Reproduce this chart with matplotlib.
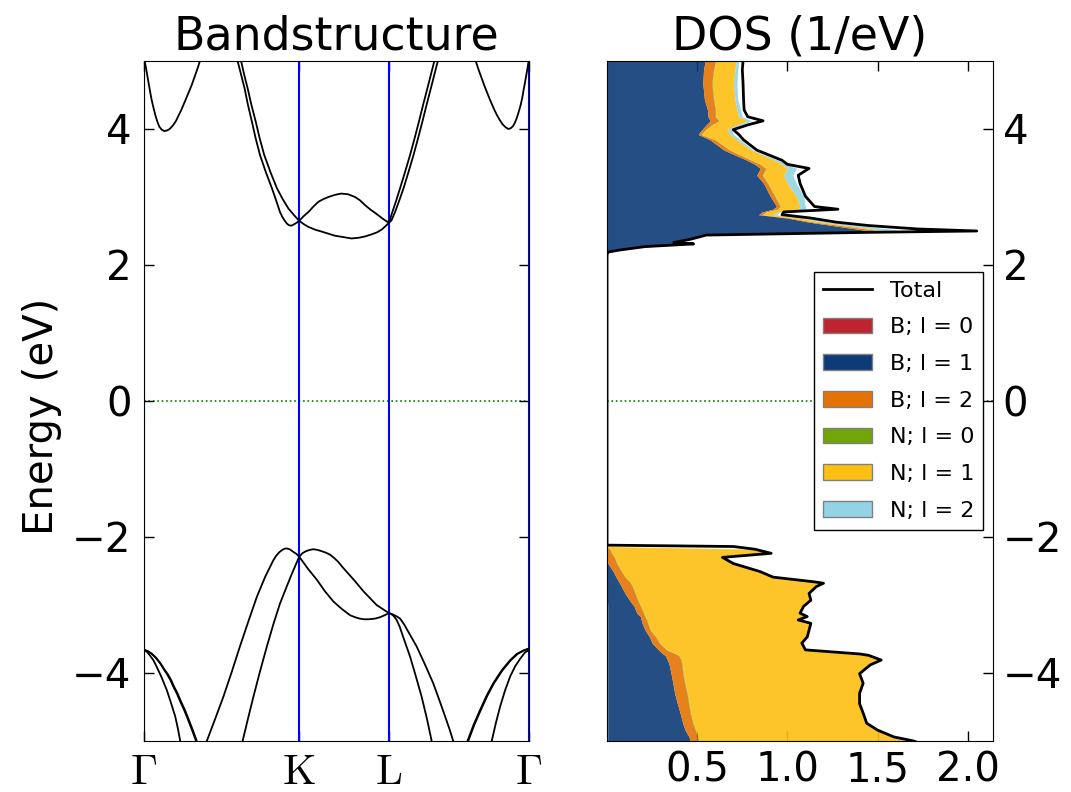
import matplotlib
matplotlib.use('Agg')
import matplotlib.pyplot as plt
import numpy as np
from matplotlib.patches import Patch
from matplotlib.lines import Line2D

plt.rcParams['font.family'] = ['DejaVu Sans']
plt.rcParams['mathtext.fontset'] = 'cm'

# ---------------- Band structure data (k path fraction, energy eV) ----------------
kpoint_pos = [0.0, 0.403, 0.636, 1.0]
kpoint_labels = [r'$\Gamma$', r'$\mathrm{K}$', r'$\mathrm{L}$', r'$\Gamma$']

cb_gl_k = [0.000, 0.004, 0.008, 0.012, 0.016, 0.020, 0.025, 0.030, 0.035, 0.040, 0.046, 0.052, 0.058, 0.064,
           0.070, 0.076, 0.083, 0.089, 0.096, 0.102, 0.108, 0.113, 0.119, 0.124, 0.129, 0.134, 0.139, 0.144, 0.150]
cb_gl_E = [5.05, 4.93, 4.80, 4.67, 4.54, 4.42, 4.30, 4.19, 4.10, 4.03, 3.99, 3.97, 3.975, 3.99,
           4.02, 4.06, 4.12, 4.19, 4.27, 4.35, 4.43, 4.50, 4.58, 4.65, 4.73, 4.81, 4.89, 4.98, 5.08]

cb_gr_k = [0.856, 0.862, 0.869, 0.876, 0.883, 0.890, 0.897, 0.903, 0.910, 0.916, 0.923, 0.931, 0.938, 0.946,
           0.952, 0.958, 0.963, 0.968, 0.973, 0.978, 0.982, 0.985, 0.989, 0.993, 0.997, 1.000]
cb_gr_E = [5.12, 4.99, 4.87, 4.76, 4.65, 4.55, 4.45, 4.37, 4.28, 4.21, 4.14, 4.07, 4.03, 4.00,
           4.01, 4.04, 4.09, 4.16, 4.25, 4.35, 4.45, 4.55, 4.67, 4.80, 4.93, 5.05]

cb1_k = [0.238, 0.243, 0.252, 0.261, 0.270, 0.280, 0.290, 0.301, 0.316, 0.332, 0.343, 0.353, 0.358, 0.362, 0.367,
         0.371, 0.375, 0.379, 0.384, 0.390, 0.396, 0.403, 0.415, 0.427, 0.444, 0.462, 0.479, 0.496, 0.518, 0.539,
         0.557, 0.574, 0.591, 0.605, 0.617, 0.627, 0.636, 0.643, 0.652, 0.663, 0.674, 0.687, 0.700, 0.712, 0.723,
         0.734, 0.745, 0.754, 0.763, 0.768]
cb1_E = [5.30, 5.00, 4.80, 4.60, 4.35, 4.11, 3.86, 3.62, 3.37, 3.13, 2.95, 2.78, 2.72, 2.68, 2.64,
         2.61, 2.59, 2.58, 2.58, 2.60, 2.62, 2.65, 2.60, 2.56, 2.52, 2.49, 2.46, 2.43, 2.41, 2.39,
         2.40, 2.42, 2.45, 2.48, 2.52, 2.57, 2.62, 2.66, 2.78, 2.95, 3.13, 3.37, 3.62, 3.87, 4.11,
         4.36, 4.60, 4.80, 5.00, 5.30]

cb2_k = [0.247, 0.252, 0.260, 0.269, 0.279, 0.290, 0.300, 0.312, 0.328, 0.345, 0.360, 0.375, 0.390, 0.403,
         0.415, 0.427, 0.440, 0.453, 0.466, 0.479, 0.495, 0.512, 0.530, 0.548, 0.561, 0.574, 0.589, 0.604,
         0.620, 0.636, 0.645, 0.655, 0.665, 0.678, 0.691, 0.703, 0.714, 0.725, 0.736, 0.745, 0.754, 0.759]
cb2_E = [5.30, 5.00, 4.80, 4.60, 4.35, 4.11, 3.87, 3.62, 3.37, 3.13, 2.97, 2.83, 2.73, 2.65,
         2.72, 2.78, 2.86, 2.93, 2.97, 3.00, 3.03, 3.05, 3.04, 3.00, 2.95, 2.88, 2.81, 2.75,
         2.68, 2.62, 2.78, 2.95, 3.13, 3.37, 3.62, 3.87, 4.11, 4.36, 4.60, 4.80, 5.00, 5.30]

vb_gl1_k = [0.000, 0.010, 0.020, 0.031, 0.042, 0.052, 0.060, 0.068, 0.076, 0.085, 0.094, 0.103, 0.111, 0.124, 0.135, 0.140]
vb_gl1_E = [-3.66, -3.68, -3.72, -3.78, -3.86, -3.95, -4.02, -4.10, -4.20, -4.30, -4.42, -4.53, -4.64, -4.83, -5.00, -5.10]
vb_gl2_k = [0.000, 0.010, 0.021, 0.032, 0.043, 0.053, 0.062, 0.070, 0.078, 0.087, 0.096, 0.105, 0.113, 0.126, 0.137, 0.142]
vb_gl2_E = [-3.66, -3.68, -3.72, -3.78, -3.86, -3.95, -4.02, -4.10, -4.20, -4.30, -4.42, -4.53, -4.64, -4.83, -5.00, -5.10]
vb_gl3_k = [0.000, 0.008, 0.015, 0.024, 0.033, 0.046, 0.059, 0.070, 0.081, 0.088, 0.094, 0.098]
vb_gl3_E = [-3.67, -3.69, -3.74, -3.81, -3.91, -4.07, -4.25, -4.44, -4.64, -4.82, -5.00, -5.10]

vb_gr1_k = [0.836, 0.840, 0.856, 0.873, 0.890, 0.907, 0.929, 0.951, 0.968, 0.985, 1.000]
vb_gr1_E = [-5.10, -5.00, -4.76, -4.54, -4.33, -4.15, -3.96, -3.81, -3.72, -3.67, -3.64]
vb_gr2_k = [0.838, 0.842, 0.858, 0.875, 0.892, 0.909, 0.931, 0.953, 0.970, 0.986, 1.000]
vb_gr2_E = [-5.10, -5.00, -4.76, -4.54, -4.33, -4.15, -3.96, -3.81, -3.72, -3.67, -3.64]
vb_gr3_k = [0.901, 0.903, 0.914, 0.925, 0.938, 0.951, 0.964, 0.977, 0.989, 1.000]
vb_gr3_E = [-5.10, -5.00, -4.73, -4.49, -4.25, -4.05, -3.90, -3.79, -3.70, -3.66]

vb1_k = [0.160, 0.163, 0.185, 0.206, 0.228, 0.249, 0.271, 0.293, 0.315, 0.336, 0.344, 0.352, 0.359, 0.366, 0.372,
         0.378, 0.388, 0.396, 0.403, 0.411, 0.420, 0.430, 0.440, 0.451, 0.462, 0.472, 0.483, 0.494, 0.505, 0.515,
         0.526, 0.548, 0.570, 0.604, 0.636, 0.643, 0.650, 0.657, 0.665, 0.676, 0.687, 0.708, 0.730, 0.751, 0.767,
         0.782, 0.793, 0.803, 0.806]
vb1_E = [-5.10, -5.00, -4.67, -4.35, -3.98, -3.61, -3.24, -2.88, -2.58, -2.34, -2.27, -2.22, -2.19, -2.17, -2.17,
         -2.18, -2.22, -2.25, -2.29, -2.24, -2.21, -2.19, -2.18, -2.19, -2.21, -2.23, -2.26, -2.31, -2.37, -2.44,
         -2.51, -2.65, -2.80, -3.00, -3.12, -3.13, -3.15, -3.17, -3.20, -3.29, -3.40, -3.61, -3.88, -4.15, -4.40,
         -4.64, -4.82, -5.00, -5.10]

vb2_k = [0.253, 0.256, 0.270, 0.284, 0.301, 0.319, 0.336, 0.353, 0.369, 0.384, 0.403, 0.426, 0.449, 0.470, 0.492,
         0.514, 0.535, 0.548, 0.560, 0.572, 0.583, 0.592, 0.600, 0.613, 0.625, 0.636, 0.641, 0.646, 0.651, 0.656,
         0.664, 0.673, 0.691, 0.706, 0.721, 0.735, 0.747, 0.750]
vb2_E = [-5.10, -5.00, -4.67, -4.35, -3.98, -3.61, -3.28, -2.98, -2.75, -2.54, -2.29, -2.47, -2.63, -2.80, -2.95,
         -3.06, -3.15, -3.18, -3.20, -3.21, -3.21, -3.205, -3.20, -3.18, -3.15, -3.12, -3.13, -3.15, -3.18, -3.22,
         -3.32, -3.47, -3.76, -4.05, -4.35, -4.68, -5.00, -5.10]

bands = [(cb_gl_k, cb_gl_E), (cb_gr_k, cb_gr_E), (cb1_k, cb1_E), (cb2_k, cb2_E),
         (vb_gl1_k, vb_gl1_E), (vb_gl2_k, vb_gl2_E), (vb_gl3_k, vb_gl3_E),
         (vb_gr1_k, vb_gr1_E), (vb_gr2_k, vb_gr2_E), (vb_gr3_k, vb_gr3_E),
         (vb1_k, vb1_E), (vb2_k, vb2_E)]

# ---------------- DOS data (1/eV) ----------------
dos_energy = [-5.05, -5.00, -4.94, -4.84, -4.74, -4.59, -4.45, -4.30, -4.15, -4.01, -3.88, -3.81, -3.74, -3.72,
              -3.66, -3.56, -3.47, -3.37, -3.27, -3.22, -3.17, -3.12, -3.02, -2.93, -2.83, -2.73, -2.68, -2.66,
              -2.59, -2.51, -2.39, -2.30, -2.24, -2.18, -2.14, -2.12,
              2.15, 2.19, 2.22, 2.27, 2.31, 2.33, 2.38, 2.44, 2.48, 2.50, 2.53, 2.58, 2.63, 2.69, 2.74, 2.78,
              2.82, 2.86, 3.01, 3.20, 3.32, 3.42, 3.48, 3.54, 3.69, 3.84, 3.92, 3.99, 4.06, 4.12, 4.18, 4.28,
              4.43, 4.67, 4.87, 5.00, 5.05]

dos_B_l0 = [0.004] * 23 + [0.002] * 7 + [0.0] * 6 + \
           [0.0, 0.0] + [0.002] * 35
dos_B_l1 = [0.456, 0.456, 0.451, 0.429, 0.416, 0.401, 0.386, 0.371, 0.361, 0.351, 0.341, 0.331, 0.318, 0.306,
            0.281, 0.246, 0.231, 0.207, 0.191, 0.186, 0.181, 0.161, 0.146, 0.123, 0.098, 0.078, 0.068, 0.063,
            0.048, 0.033, 0.005, 0.0, 0.0, 0.0, 0.0, 0.0,
            0.0, 0.003, 0.058, 0.198, 0.398, 0.358, 0.448, 0.518, 1.298, 1.458, 1.378, 1.248, 1.118, 0.998,
            0.838, 0.858, 0.918, 0.938, 0.903, 0.866, 0.828, 0.848, 0.818, 0.774, 0.646, 0.570, 0.503, 0.524,
            0.548, 0.570, 0.558, 0.555, 0.538, 0.529, 0.533, 0.542, 0.542]
dos_B_l2 = [0.047, 0.047, 0.045, 0.056, 0.055, 0.056, 0.062, 0.068, 0.065, 0.065, 0.070, 0.075, 0.074, 0.070,
            0.045, 0.040, 0.035, 0.028, 0.030, 0.030, 0.025, 0.037, 0.035, 0.045, 0.055, 0.060, 0.060, 0.060,
            0.050, 0.045, 0.049, 0.040, 0.025, 0.015, 0.0, 0.0,
            0.0, 0.0, 0.002, 0.003, 0.010, 0.003, 0.005, 0.005, 0.030, 0.060, 0.060, 0.050, 0.030, 0.020,
            0.020, 0.020, 0.025, 0.020, 0.025, 0.022, 0.030, 0.030, 0.030, 0.024, 0.032, 0.028, 0.015, 0.019,
            0.030, 0.048, 0.040, 0.043, 0.050, 0.050, 0.055, 0.056, 0.056]
dos_N_l0 = [0.003] * 34 + [0.0, 0.0] + \
           [0.0, 0.0, 0.001, 0.001, 0.002, 0.001, 0.002, 0.002] + [0.003] * 29
dos_N_l1 = [1.234, 1.184, 1.081, 1.002, 0.956, 0.950, 0.939, 0.948, 0.981, 0.971, 1.036, 1.101, 1.045, 1.011,
            0.761, 0.781, 0.831, 0.872, 0.896, 0.831, 0.891, 0.859, 0.896, 0.951, 0.956, 1.011, 1.061, 1.016,
            0.811, 0.761, 0.637, 0.591, 0.876, 0.796, 0.020, 0.0,
            0.0, 0.0, 0.002, 0.002, 0.008, 0.002, 0.003, 0.003, 0.017, 0.027, 0.037, 0.037, 0.047, 0.047,
            0.057, 0.067, 0.112, 0.107, 0.117, 0.107, 0.117, 0.117, 0.117, 0.127, 0.117, 0.117, 0.157, 0.117,
            0.137, 0.157, 0.127, 0.117, 0.117, 0.116, 0.117, 0.113, 0.113]
dos_N_l2 = [0.006] * 34 + [0.0, 0.0] + \
           [0.0, 0.0, 0.001, 0.001, 0.005, 0.001, 0.002, 0.005, 0.030, 0.080, 0.080, 0.060, 0.040, 0.030,
            0.020, 0.010, 0.040, 0.030, 0.040, 0.050, 0.050, 0.050, 0.030, 0.020, 0.010, 0.020, 0.020, 0.025,
            0.020, 0.020, 0.020, 0.020, 0.015, 0.020, 0.015, 0.014, 0.014]
dos_total = [1.75, 1.70, 1.59, 1.50, 1.44, 1.42, 1.40, 1.40, 1.42, 1.40, 1.46, 1.52, 1.45, 1.40,
             1.10, 1.08, 1.11, 1.12, 1.13, 1.06, 1.11, 1.07, 1.09, 1.13, 1.12, 1.16, 1.20, 1.15,
             0.92, 0.85, 0.70, 0.64, 0.91, 0.82, 0.70, 0.0,
             0.0, 0.005, 0.07, 0.21, 0.48, 0.37, 0.465, 0.55, 1.45, 2.05, 1.72, 1.45, 1.27, 1.13,
             0.97, 0.98, 1.28, 1.15, 1.10, 1.07, 1.06, 1.12, 1.00, 0.97, 0.83, 0.757, 0.73, 0.70,
             0.78, 0.865, 0.78, 0.76, 0.757, 0.754, 0.75, 0.754, 0.754]

dos_labels = ['B; l = 0', 'B; l = 1', 'B; l = 2', 'N; l = 0', 'N; l = 1', 'N; l = 2']
dos_components = [dos_B_l0, dos_B_l1, dos_B_l2, dos_N_l0, dos_N_l1, dos_N_l2]
fill_colors = ['#be2430', '#0d3b78', '#e57303', '#71a50a', '#fdbf12', '#92d4e5']

dos_xticks = [0.5, 1.0, 1.5, 2.0]
energy_ticks = [-4, -2, 0, 2, 4]

# ---------------- Figure ----------------
fig = plt.figure(figsize=(10.71, 7.92), dpi=100)
ax1 = fig.add_axes([0.1345, 0.0644, 0.3595, 0.8586])
ax2 = fig.add_axes([0.5668, 0.0644, 0.3604, 0.8586])

for k, e in bands:
    ax1.plot(k, e, color='k', lw=1.3, zorder=3)
for kp in kpoint_pos:
    ax1.axvline(kp, color='b', lw=1.5, zorder=2)
ax1.axhline(0, color='g', ls=':', lw=1.2, zorder=1)
ax1.set_xlim(0, 1)
ax1.set_ylim(-5, 5)
ax1.set_xticks(kpoint_pos)
ax1.set_xticklabels(kpoint_labels)
ax1.set_yticks(energy_ticks)
ax1.tick_params(direction='in', length=7, width=1, top=True, right=True, labelsize=29, pad=9)
ax1.tick_params(axis='x', pad=7, labelsize=31)
ax1.set_ylabel('Energy (eV)', fontsize=29)
ax1.yaxis.set_label_coords(-0.213, 0.478)
ax1.set_title('Bandstructure', fontsize=33, pad=8)

E = np.array(dos_energy)
base = np.zeros(len(E))
for comp, col in zip(dos_components, fill_colors):
    top = base + np.array(comp)
    ax2.fill_betweenx(E, base, top, color=col, alpha=0.9, lw=0, zorder=2)
    base = top
ax2.plot(dos_total, E, color='k', lw=2, zorder=4)
ax2.axhline(0, color='g', ls=':', lw=1.2, zorder=1)
ax2.set_xlim(0, 2.14)
ax2.set_ylim(-5, 5)
ax2.set_xticks(dos_xticks)
ax2.set_xticklabels(['0.5', '1.0', '1.5', '2.0'])
ax2.set_yticks(energy_ticks)
ax2.yaxis.tick_right()
ax2.tick_params(direction='in', length=7, width=1, top=True, left=False, right=True,
                labelleft=False, labelright=True, labelsize=29, pad=7)
ax2.set_title('DOS (1/eV)', fontsize=33, pad=8)

handles = [Line2D([], [], color='k', lw=2, label='Total')]
for lab, col in zip(dos_labels, fill_colors):
    handles.append(Patch(facecolor=col, edgecolor='gray', label=lab))
leg = ax2.legend(handles=handles, loc='upper right', bbox_to_anchor=(0.974, 0.690), borderaxespad=0,
                 fontsize=16, labelspacing=0.75, handlelength=2.2, fancybox=False, framealpha=1,
                 edgecolor='k')
leg.get_frame().set_linewidth(1.0)

fig.savefig('out.png', dpi=100)
